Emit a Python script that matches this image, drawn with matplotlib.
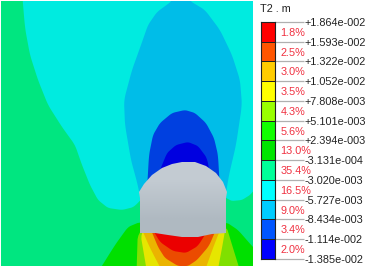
import numpy as np
import matplotlib
matplotlib.use("Agg")
import matplotlib.pyplot as plt
from matplotlib.colors import LinearSegmentedColormap, ListedColormap
from matplotlib.patches import Polygon, Rectangle

plt.rcParams['font.family'] = ['Liberation Sans', 'DejaVu Sans']

# legend values
level_labels = ["+1.864e-002", "+1.593e-002", "+1.322e-002", "+1.052e-002", "+7.808e-003",
                "+5.101e-003", "+2.394e-003", "-3.131e-004", "-3.020e-003", "-5.727e-003",
                "-8.434e-003", "-1.114e-002", "-1.385e-002"]
percent_labels = ["1.8%", "2.5%", "3.0%", "3.5%", "4.3%", "5.6%", "13.0%", "35.4%", "16.5%", "9.0%", "3.4%", "2.0%"]
band_colors = ["#ff0000", "#ff5500", "#ffcc00", "#ffff00", "#99ff00", "#11ff00",
               "#00e600", "#00ff99", "#00ffff", "#00ccff", "#0055ff", "#0000ff"]

# contour outlines, in image pixels
cyan_zone = [(21, -20), (25, 28), (30, 55), (38, 80), (48, 105), (62, 127), (75, 145), (82, 165), (90, 185),
             (98, 200), (108, 208), (122, 210), (134, 207), (150, 190), (215, 190), (226, 198), (232, 201),
             (242, 200), (250, 195), (256, 188), (280, 180), (280, -20)]
sky_zone = [(172, -8), (172, 1), (157, 12), (148, 25), (141, 45), (132, 70), (124, 100), (125, 125), (131, 160),
            (137, 182), (142, 205), (224, 205), (229, 175), (236, 145), (242, 105), (240, 80), (232, 55), (220, 30),
            (205, 10), (190, 1), (190, -8)]
blue_zone = [(185, 110), (172, 113), (160, 123), (153, 135), (149, 155), (147, 190), (220, 190), (218, 155),
             (214, 138), (206, 123), (195, 113)]
navy_zone = [(188, 142), (176, 145), (167, 153), (160, 170), (160, 185), (212, 185), (207, 158), (198, 146)]
green_zone = [(90, 285), (115, 245), (128, 227), (140, 222), (226, 222), (238, 230), (252, 246), (275, 270), (275, 285)]
lime_zone = [(136, 290), (138, 225), (226, 225), (233, 248), (246, 290)]
yellow_zone = [(150, 290), (139, 225), (226, 225), (222, 248), (214, 290)]
orange_zone = [(172, 290), (150, 248), (140, 225), (222, 225), (213, 248), (198, 290)]
flame_zone = [(178, 266), (165, 258), (158, 247), (149, 225), (218, 225), (209, 246), (197, 260), (188, 266)]
red_zone = [(150, 225), (160, 242), (173, 251), (186, 253), (198, 246), (211, 225)]
tunnel = [(139, 192), (144, 184), (152, 175), (162, 168), (172, 164), (182, 162), (195, 162), (206, 166),
          (216, 173), (223, 182), (227, 192), (226, 198), (226, 233), (212, 234), (198, 237), (182, 237),
          (168, 235), (155, 233), (140, 233), (140, 198)]

field_layers = [(cyan_zone, "#00ebe0"), (sky_zone, "#00bde8"), (blue_zone, "#0040e0"), (navy_zone, "#0000e0"),
                (green_zone, "#00e000"), (lime_zone, "#80e000"), (yellow_zone, "#e6e600"),
                (orange_zone, "#ebb400"), (flame_zone, "#eb4b00"), (red_zone, "#eb0000")]


def smooth(outline, rounds=3):
    # split each edge in two, then cut corners so the contours look round
    pts = np.array(outline, dtype=float)
    nxt = np.roll(pts, -1, axis=0)
    pts = np.column_stack([pts, 0.5 * (pts + nxt)]).reshape(-1, 2)
    for _ in range(rounds):
        nxt = np.roll(pts, -1, axis=0)
        pts = np.column_stack([0.75 * pts + 0.25 * nxt, 0.25 * pts + 0.75 * nxt]).reshape(-1, 2)
    return pts


fig = plt.figure(figsize=(3.79, 2.68), dpi=100, facecolor="white")
ax = fig.add_axes([0, 0, 1, 1])
ax.axis("off")

frame = Rectangle((1, 1), 252, 265, transform=ax.transData, facecolor="#00e680", edgecolor="none")
ax.add_patch(frame)
for outline, colour in field_layers:
    patch = Polygon(smooth(outline), closed=True, facecolor=colour, edgecolor="none")
    ax.add_patch(patch)
    patch.set_clip_path(frame)

# tunnel, slight shading from top to bottom
tunnel_cmap = LinearSegmentedColormap.from_list("tunnel", ["#c3cbd2", "#afb9c1"])
shade = ax.imshow([[0.0], [1.0]], extent=(135, 230, 240, 160), aspect="auto", zorder=3,
                  cmap=tunnel_cmap, interpolation="bilinear")
shade.set_clip_path(Polygon(tunnel, closed=True, transform=ax.transData))
ax.set_xlim(0, 379)
ax.set_ylim(268, 0)

ax.text(260, 8.5, "T2 . m", fontsize=7.8, va="center", ha="left", color="#222222")

# legend bar
cax = fig.add_axes([261 / 379, 1 - 259 / 268, 14 / 379, 237 / 268])
n_bands = len(band_colors)
cax.pcolormesh([0, 1], np.arange(n_bands + 1), np.arange(n_bands)[:, None], cmap=ListedColormap(band_colors),
               edgecolors="#222222", linewidth=0.7)
cax.set_xlim(0, 1)
cax.set_ylim(n_bands, 0)
cax.set_xticks([])
cax.yaxis.tick_right()
cax.set_yticks(np.arange(n_bands + 1))
cax.set_yticklabels(level_labels, fontsize=7.8, color="#222222")
cax.tick_params(axis="y", length=21, width=0.9, color="#b0b0b0", pad=0)
for spine in cax.spines.values():
    spine.set_linewidth(0.8)
    spine.set_color("#222222")

for i, label in enumerate(percent_labels):
    cax.annotate(label, xy=(1, i + 0.55), xycoords=cax.get_yaxis_transform(), xytext=(4, 0),
                 textcoords="offset points", fontsize=7.8, color="#f03040", va="center", ha="left")

fig.savefig("out.png", dpi=100)
